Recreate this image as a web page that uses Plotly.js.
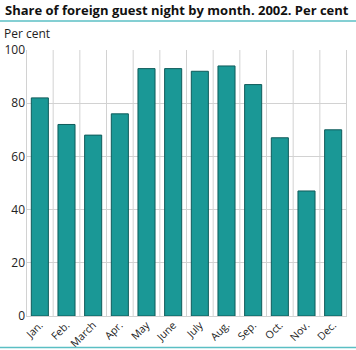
<!DOCTYPE html>
<html><head><meta charset="utf-8">
<script src="https://cdn.plot.ly/plotly-3.0.1.min.js"></script>
<style>html,body{margin:0;padding:0;background:#fff}</style>
</head><body><div id="chart" style="width:356px;height:350px"></div>
<script>
const months = ["Jan.","Feb.","March","Apr.","May","June","July","Aug.","Sep.","Oct.","Nov.","Dec."];
const shares = [82, 72, 68, 76, 93, 93, 92, 94, 87, 67, 47, 70];
const yTicks = [0, 20, 40, 60, 80, 100];

const W = 356, H = 350, L = 26, R = 9, T = 50, B = 34;
const pw = W - L - R, ph = H - T - B;
const px = v => (v - L) / pw;
const py = v => (H - B - v) / ph;

Plotly.newPlot('chart', [{
  type: 'bar', x: months, y: shares,
  marker: {color: '#1a9896', line: {color: '#0f5b5a', width: 1}},
  hoverinfo: 'none'
}], {
  width: W, height: H,
  margin: {l: L, r: R, t: T, b: B},
  paper_bgcolor: '#fff', plot_bgcolor: '#fff',
  font: {family: 'Open Sans, sans-serif', size: 12, color: '#222'},
  bargap: 0.36,
  showlegend: false,
  xaxis: {
    type: 'category', tickangle: -45, showgrid: false, ticks: '',
    tickfont: {size: 10.5}, fixedrange: true, showline: false, automargin: false
  },
  yaxis: {
    range: [0, 100], tickvals: yTicks, showgrid: true, gridcolor: '#d2d2d2', gridwidth: 1,
    zeroline: true, zerolinecolor: '#d2d2d2', ticks: '', tickfont: {size: 12}, showline: false, automargin: false
  },
  shapes: [
    ...months.map((m, i) => ({type: 'line', xref: 'x', yref: 'paper', x0: i - 0.5, x1: i - 0.5, y0: 0, y1: 1, line: {color: '#d2d2d2', width: 1}, layer: 'below'})),
    {type: 'line', xref: 'x', yref: 'paper', x0: months.length - 0.5, x1: months.length - 0.5, y0: 0, y1: 1, line: {color: '#d2d2d2', width: 1}, layer: 'below'},
    {type: 'line', xref: 'paper', yref: 'paper', x0: px(0), x1: px(W), y0: py(21), y1: py(21), line: {color: '#5bbfc4', width: 1.5}},
    {type: 'line', xref: 'paper', yref: 'paper', x0: px(0), x1: px(W), y0: py(347.5), y1: py(347.5), line: {color: '#5bbfc4', width: 1.5}}
  ],
  annotations: [
    {text: '<b>Share of foreign guest night by month. 2002. Per cent</b>', xref: 'paper', yref: 'paper', x: px(3), y: py(10), xanchor: 'left', yanchor: 'middle', showarrow: false, font: {size: 13, color: '#111'}},
    {text: 'Per cent', xref: 'paper', yref: 'paper', x: px(3), y: py(33), xanchor: 'left', yanchor: 'middle', showarrow: false, borderpad: 0, font: {size: 12, color: '#222'}}
  ]
}, {displayModeBar: false, staticPlot: true});
</script></body></html>
